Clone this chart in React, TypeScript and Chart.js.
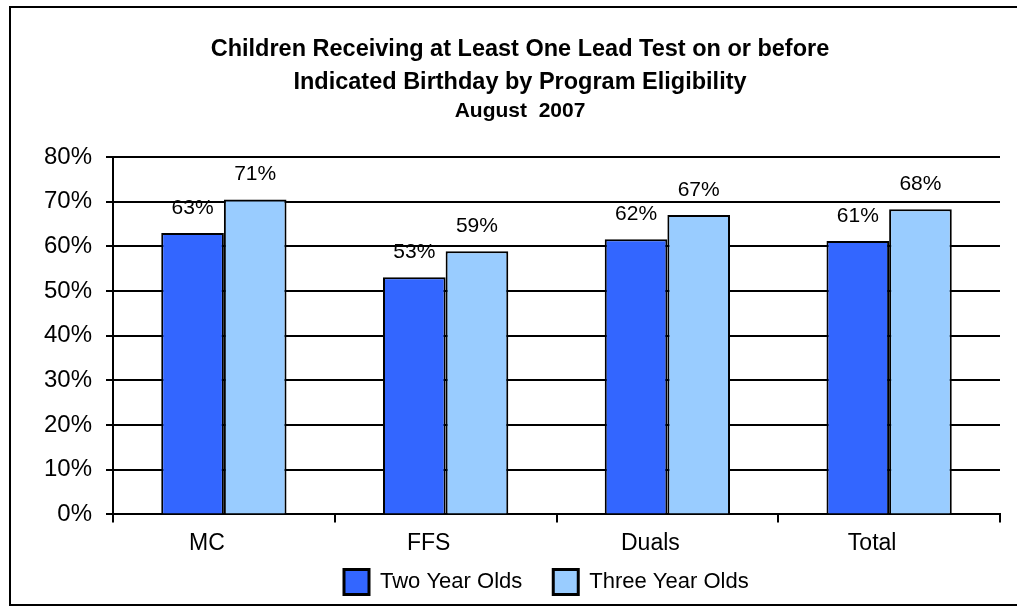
import React, { useEffect, useRef } from "react";
import { Chart, registerables } from "chart.js";

Chart.register(...registerables);

const categories = ["MC", "FFS", "Duals", "Total"];
const twoYearOlds = [63.0, 53.1, 61.6, 61.2];
const threeYearOlds = [70.5, 58.9, 67.0, 68.3];
const seriesNames = ["Two Year Olds", "Three Year Olds"];
const titleLines = [
  "Children Receiving at Least One Lead Test on or before",
  "Indicated Birthday by Program Eligibility",
];
const subtitleText = "August  2007";
const yMax = 80;
const yStep = 10;

const FONT = "'Liberation Sans', Arial, Helvetica, sans-serif";

const framePlugin = {
  id: "frame",
  beforeDraw(chart: any) {
    const ctx = chart.ctx;
    ctx.save();
    ctx.fillStyle = "#ffffff";
    ctx.fillRect(0, 0, chart.width, chart.height);
    ctx.strokeStyle = "#000000";
    ctx.lineWidth = 2;
    ctx.beginPath();
    ctx.moveTo(chart.width + 5, 7);
    ctx.lineTo(10, 7);
    ctx.lineTo(10, 605);
    ctx.lineTo(chart.width + 5, 605);
    ctx.stroke();
    ctx.restore();
  },
};

const valueLabelPlugin = {
  id: "valueLabels",
  afterDatasetsDraw(chart: any) {
    const ctx = chart.ctx;
    ctx.save();
    ctx.font = `21px ${FONT}`;
    ctx.fillStyle = "#000000";
    ctx.textAlign = "center";
    ctx.textBaseline = "middle";
    chart.data.datasets.forEach((ds: any, i: number) => {
      const meta = chart.getDatasetMeta(i);
      meta.data.forEach((bar: any, j: number) => {
        ctx.fillText(Math.round(ds.data[j]) + "%", bar.x, bar.y - 25);
      });
    });
    ctx.restore();
  },
};

const customLegendPlugin = {
  id: "customLegend",
  afterDraw(chart: any) {
    const ctx = chart.ctx;
    const box = 25;
    const gapText = 11;
    const gapItem = 31;
    const startX = 344;
    const cy = 582;
    ctx.save();
    ctx.font = `22px ${FONT}`;
    ctx.textBaseline = "middle";
    ctx.textAlign = "left";
    let x = startX;
    chart.data.datasets.forEach((ds: any) => {
      ctx.fillStyle = ds.backgroundColor;
      ctx.fillRect(x, cy - box / 2, box, box);
      ctx.strokeStyle = "#000000";
      ctx.lineWidth = 3;
      ctx.strokeRect(x, cy - box / 2, box, box);
      ctx.fillStyle = "#000000";
      const tx = x + box + gapText;
      ctx.fillText(ds.label, tx, cy);
      x = tx + ctx.measureText(ds.label).width + gapItem;
    });
    ctx.restore();
  },
};

export default function App() {
  const canvasRef = useRef<HTMLCanvasElement | null>(null);

  useEffect(() => {
    const canvas = canvasRef.current;
    if (!canvas) return;
    const chart = new Chart(canvas, {
      type: "bar",
      data: {
        labels: categories,
        datasets: [
          {
            label: seriesNames[0],
            data: twoYearOlds,
            backgroundColor: "#3366FF",
            borderColor: "#000000",
            borderWidth: 2,
            categoryPercentage: 0.565,
            barPercentage: 1.0,
          },
          {
            label: seriesNames[1],
            data: threeYearOlds,
            backgroundColor: "#99CCFF",
            borderColor: "#000000",
            borderWidth: 2,
            categoryPercentage: 0.565,
            barPercentage: 1.0,
          },
        ],
      },
      options: {
        responsive: false,
        animation: false,
        devicePixelRatio: 1,
        layout: { padding: { top: 0, left: 40, right: 17, bottom: 43 } },
        plugins: {
          legend: { display: false },
          tooltip: { enabled: false },
          title: {
            display: true,
            text: titleLines,
            color: "#000000",
            font: { family: FONT, size: 23.5, weight: "bold", lineHeight: 33 / 23.5 },
            padding: { top: 33, bottom: 0 },
          },
          subtitle: {
            display: true,
            text: subtitleText,
            color: "#000000",
            font: { family: FONT, size: 21, weight: "bold", lineHeight: 24 / 21 },
            padding: { top: 0, bottom: 34 },
          },
        },
        scales: {
          x: {
            grid: {
              display: true,
              drawOnChartArea: false,
              drawTicks: true,
              tickLength: 8,
              color: "#000000",
              lineWidth: 2,
              offset: true,
            },
            border: { display: true, color: "#000000", width: 2 },
            ticks: {
              color: "#000000",
              font: { family: FONT, size: 23 },
              padding: 7,
              labelOffset: -17,
            },
          },
          y: {
            min: 0,
            max: yMax,
            afterFit(scale: any) {
              scale.width = 73;
            },
            grid: {
              color: "#000000",
              lineWidth: 2,
              drawTicks: true,
              tickLength: 7,
            },
            border: { display: true, color: "#000000", width: 2 },
            ticks: {
              stepSize: yStep,
              color: "#000000",
              font: { family: FONT, size: 24 },
              padding: 14,
              callback: (v: any) => v + "%",
            },
          },
        },
      },
      plugins: [framePlugin, valueLabelPlugin, customLegendPlugin],
    });
    return () => chart.destroy();
  }, []);

  return (
    <canvas
      ref={canvasRef}
      width={1017}
      height={607}
      style={{ position: "fixed", left: 0, top: 0, width: "1017px", height: "607px", display: "block" }}
    />
  );
}
